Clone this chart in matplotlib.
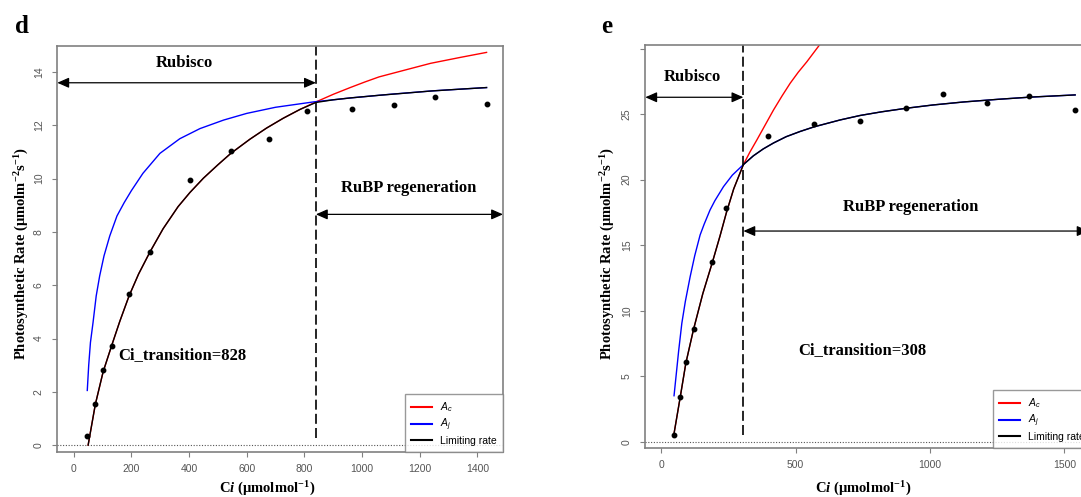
import matplotlib
matplotlib.use('Agg')
import matplotlib.pyplot as plt

# ---- panel d data ----
ci_pts_d = [47, 75, 102, 133, 192, 264, 405, 545, 678, 810, 964, 1112, 1252, 1432]
a_pts_d = [0.35, 1.53, 2.82, 3.73, 5.68, 7.24, 9.94, 11.05, 11.50, 12.55, 12.62, 12.77, 13.07, 12.80]

ci_lim_d = [50, 75, 102, 133, 160, 192, 225, 264, 310, 362, 403, 450, 500, 545, 611, 669,
            727, 785, 840, 900, 959, 1059, 1150, 1238, 1340, 1432]
a_lim_d = [0.0, 1.53, 2.75, 3.78, 4.65, 5.60, 6.42, 7.24, 8.12, 8.95, 9.48, 10.02, 10.52, 10.95,
           11.48, 11.90, 12.27, 12.60, 12.86, 12.96, 13.03, 13.13, 13.21, 13.29, 13.36, 13.42]

ci_ac_d = [50, 75, 102, 133, 160, 192, 225, 264, 310, 362, 403, 450, 500, 545, 611, 669,
           727, 785, 840, 901, 959, 1010, 1059, 1150, 1238, 1340, 1432]
a_ac_d = [0.0, 1.53, 2.75, 3.78, 4.65, 5.60, 6.42, 7.24, 8.12, 8.95, 9.48, 10.02, 10.52, 10.95,
          11.48, 11.90, 12.27, 12.60, 12.88, 13.17, 13.42, 13.63, 13.82, 14.08, 14.33, 14.55, 14.74]

ci_aj_d = [47, 52, 58, 67, 78, 90, 105, 125, 150, 175, 200, 240, 299, 368, 438, 520, 600,
           700, 831, 959, 1100, 1250, 1432]
a_aj_d = [2.05, 3.00, 3.85, 4.60, 5.60, 6.35, 7.10, 7.85, 8.60, 9.10, 9.55, 10.20, 10.95,
          11.50, 11.88, 12.20, 12.45, 12.68, 12.88, 13.03, 13.17, 13.30, 13.42]

# ---- panel e data ----
ci_pts_e = [48, 71, 92, 123, 191, 243, 397, 570, 740, 911, 1050, 1211, 1370, 1538]
a_pts_e = [0.51, 3.39, 6.06, 8.60, 13.74, 17.82, 23.36, 24.27, 24.46, 25.47, 26.52, 25.83, 26.41, 25.30]

ci_lim_e = [46, 71, 92, 120, 155, 191, 219, 243, 270, 306, 343, 380, 418, 465, 517, 570, 666,
            740, 820, 911, 1010, 1124, 1250, 1372, 1540]
a_lim_e = [0.38, 3.40, 6.00, 8.53, 11.30, 13.72, 15.70, 17.50, 19.30, 21.15, 21.82, 22.35, 22.80,
           23.28, 23.68, 24.04, 24.56, 24.90, 25.18, 25.45, 25.70, 25.93, 26.13, 26.30, 26.47]

ci_ac_e = [46, 71, 92, 120, 155, 191, 219, 243, 270, 306, 330, 356, 385, 418, 450, 480, 510, 542, 589]
a_ac_e = [0.38, 3.40, 6.00, 8.53, 11.30, 13.72, 15.70, 17.50, 19.30, 21.15, 22.10, 23.03, 24.10,
          25.32, 26.40, 27.36, 28.20, 29.00, 30.28]

ci_aj_e = [48, 58, 65, 77, 90, 108, 125, 145, 160, 182, 200, 232, 265, 306, 343, 380, 418, 465,
           517, 570, 666, 740, 820, 911, 1010, 1124, 1250, 1372, 1540]
a_aj_e = [3.51, 5.50, 6.90, 9.04, 10.70, 12.60, 14.20, 15.78, 16.60, 17.69, 18.40, 19.47, 20.35,
          21.15, 21.82, 22.35, 22.80, 23.28, 23.68, 24.04, 24.56, 24.90, 25.18, 25.45, 25.70,
          25.93, 26.13, 26.30, 26.47]

W, H = 1081, 497
SERIF = 'Liberation Serif'
SANS = 'Liberation Sans'
GREY = '#808080'

plt.rcParams['mathtext.fontset'] = 'custom'
plt.rcParams['mathtext.rm'] = SANS
plt.rcParams['mathtext.it'] = SANS + ':italic'
plt.rcParams['mathtext.bf'] = SERIF + ':bold'
plt.rcParams['mathtext.bfit'] = SERIF + ':italic:bold'


def px(x, y):
    # pixel position -> figure fraction
    return x / W, 1 - y / H


def panel(fig, rect, xlim, ylim, yticks, ylabels, xticks,
          ci_ac, a_ac, ci_aj, a_aj, ci_lim, a_lim, ci_pts, a_pts,
          ci_tr, dash_bottom, rub_y, regen_y, regen_end):
    ax = fig.add_axes(rect)
    ax.set_xlim(*xlim)
    ax.set_ylim(*ylim)

    ax.axhline(0, color='#555555', lw=0.8, ls=(0, (1, 1.5)))
    ax.plot(ci_ac, a_ac, color='red', lw=1.0, label=r'$A_c$')
    ax.plot(ci_aj, a_aj, color='blue', lw=1.0, label=r'$A_j$')
    ax.plot(ci_lim, a_lim, color='black', lw=1.0, label='Limiting rate')
    ax.plot(ci_pts, a_pts, 'o', color='black', ms=3.2, zorder=5)
    ax.plot([ci_tr, ci_tr], [dash_bottom, ylim[1] + 5], color='black', lw=1.2,
            ls=(0, (6, 2.5)))

    # arrows showing the limitation regions
    ap = dict(arrowstyle='<|-|>,head_length=0.5,head_width=0.22', color='black',
              lw=0.9, mutation_scale=14, shrinkA=0, shrinkB=0)
    ax.annotate('', xy=(xlim[0] + 1, rub_y), xytext=(ci_tr, rub_y), arrowprops=ap)
    ax.annotate('', xy=(regen_end, regen_y), xytext=(ci_tr, regen_y), arrowprops=ap)

    ax.set_xticks(xticks)
    ax.set_yticks(yticks)
    ax.set_yticklabels(ylabels, rotation=90, va='center')
    ax.tick_params(colors=GREY, labelcolor='#555555', labelsize=7.5, length=3.5,
                   width=0.8)
    ax.tick_params(axis='x', pad=5)
    ax.tick_params(axis='y', pad=6)
    for lab in ax.get_xticklabels() + ax.get_yticklabels():
        lab.set_family(SANS)
    for s in ax.spines.values():
        s.set_color(GREY)
        s.set_linewidth(1.2)

    leg = ax.legend(loc='lower right', borderaxespad=0, fancybox=False,
                    prop={'family': SANS, 'size': 7.5}, handlelength=2.0,
                    handletextpad=0.8, labelspacing=0.25, borderpad=0.6)
    leg.get_frame().set_edgecolor(GREY)
    leg.get_frame().set_linewidth(1.0)
    for line in leg.get_lines():
        line.set_linewidth(1.5)
    return ax


def main():
    fig = plt.figure(figsize=(W / 100, H / 100), dpi=100)
    fig.patch.set_facecolor('white')

    # panel d
    panel(fig, [57 / W, (H - 452) / H, 446 / W, 406 / H], (-58, 1489), (-0.26, 14.98),
          list(range(0, 15, 2)), [str(v) for v in range(0, 15, 2)],
          list(range(0, 1401, 200)),
          ci_ac_d, a_ac_d, ci_aj_d, a_aj_d, ci_lim_d, a_lim_d, ci_pts_d, a_pts_d,
          840, 0.25, 13.6, 8.66, 1489)

    # panel e (its right side runs past the picture edge, as in the reference)
    panel(fig, [645 / W, (H - 448) / H, 446 / W, 403 / H], (-60, 1599), (-0.48, 30.28),
          [0, 5, 10, 15, 20, 25, 30], ['0', '5', '10', '15', '20', '25', ''],
          [0, 500, 1000, 1500],
          ci_ac_e, a_ac_e, ci_aj_e, a_aj_e, ci_lim_e, a_lim_e, ci_pts_e, a_pts_e,
          306, 0.5, 26.29, 16.08, 1590)

    bold = dict(family=SERIF, weight='bold')
    ylab = r'Photosynthetic Rate (μmolm$^{\mathbf{-2}}$s$^{\mathbf{-1}}$)'
    xlab = r'C$\mathbfit{i}$ (μmolmol$^{\mathbf{-1}}$)'

    # panel letters
    fig.text(*px(22, 33), 'd', fontsize=18, ha='center', va='baseline', **bold)
    fig.text(*px(607, 33), 'e', fontsize=18, ha='center', va='baseline', **bold)

    # axis titles
    fig.text(*px(21, 254), ylab, fontsize=10.5, rotation=90, ha='center', va='center', **bold)
    fig.text(*px(607, 254), ylab, fontsize=10.5, rotation=90, ha='center', va='center', **bold)
    fig.text(*px(267, 488), xlab, fontsize=10.5, ha='center', va='center', **bold)
    fig.text(*px(863, 488), xlab, fontsize=10.5, ha='center', va='center', **bold)

    # annotations
    fig.text(*px(184, 63), 'Rubisco', fontsize=12, ha='center', va='center', **bold)
    fig.text(*px(409, 188), 'RuBP regeneration', fontsize=12, ha='center', va='center', **bold)
    fig.text(*px(118, 355), 'Ci_transition=828', fontsize=12, ha='left', va='center', **bold)
    fig.text(*px(692, 77), 'Rubisco', fontsize=12, ha='center', va='center', **bold)
    fig.text(*px(911, 207), 'RuBP regeneration', fontsize=12, ha='center', va='center', **bold)
    fig.text(*px(798, 350), 'Ci_transition=308', fontsize=12, ha='left', va='center', **bold)

    fig.savefig('out.png', dpi=100)


main()
